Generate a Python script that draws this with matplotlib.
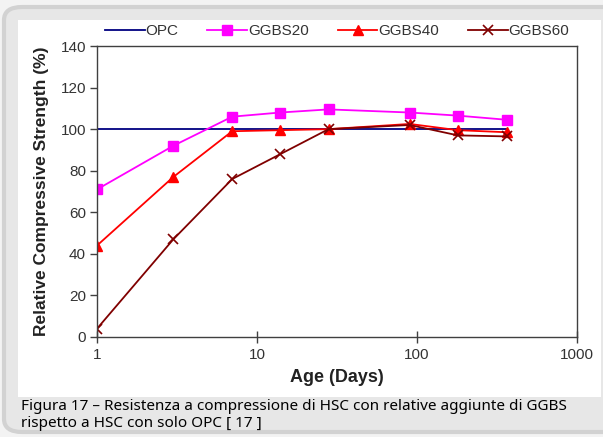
import numpy as np
import matplotlib.pyplot as plt
from matplotlib.patches import FancyBboxPatch, Rectangle

# data
days = [1, 3, 7, 14, 28, 90, 180, 365]
opc = [100, 100, 100, 100, 100, 100, 100, 100]
ggbs20 = [71, 92, 106, 108, 109.5, 108, 106.5, 104.5]
ggbs40 = [44, 77, 99, 99.5, 100, 102.5, 99.5, 98.5]
ggbs60 = [4, 47, 76, 88, 100, 102, 97, 96.5]
xticks = [1, 10, 100, 1000]
yticks = [0, 20, 40, 60, 80, 100, 120, 140]
caption = ("Figura 17 \u2013 Resistenza a compressione di HSC con relative aggiunte di GGBS\n"
           "rispetto a HSC con solo OPC [ 17 ]")

plt.rcParams['font.family'] = ['Liberation Sans', 'DejaVu Sans']

W, H = 603, 437
fig = plt.figure(figsize=(W / 100, H / 100), dpi=100)
fig.patch.set_facecolor('#f3f3f3')

# rounded grey panel and white chart area
panel = FancyBboxPatch((4 / W, 5 / H), 1.5, 1 - 12 / H,
                       boxstyle='round,pad=0,rounding_size=0.03',
                       transform=fig.transFigure, facecolor='#e7e7e7',
                       edgecolor='#d2d2d2', linewidth=3, zorder=-3)
fig.patches.append(panel)
fig.patches.append(Rectangle((18 / W, 1 - 397 / H), 583 / W, 377 / H,
                             transform=fig.transFigure, facecolor='white',
                             edgecolor='none', zorder=-2))

ax = fig.add_axes([97 / W, 1 - 337 / H, 480 / W, 291 / H])
ax.set_facecolor('white')

ax.plot(days, opc, color='#000080', lw=1.3, label='OPC')
ax.plot(days, ggbs20, color='#ff00ff', lw=1.3, marker='s', ms=7, label='GGBS20')
ax.plot(days, ggbs40, color='#ff0000', lw=1.3, marker='^', ms=6.5, label='GGBS40')
ax.plot(days, ggbs60, color='#800000', lw=1.3, marker='x', ms=7, mew=1.2, label='GGBS60')

ax.set_xscale('log')
ax.set_xlim(1, 1000)
ax.set_ylim(0, 140)
ax.set_xticks(xticks)
ax.set_xticklabels([str(t) for t in xticks])
ax.minorticks_off()
ax.set_yticks(yticks)
for s in ax.spines.values():
    s.set_color('#404040')
    s.set_linewidth(1.0)
ax.tick_params(axis='x', direction='inout', length=8, pad=4)
ax.tick_params(axis='y', direction='out', length=5, pad=3)
ax.tick_params(width=1, color='#404040', labelsize=11, labelcolor='#333333')
ax.set_xlabel('Age (Days)', fontsize=13, fontweight='bold', labelpad=5, color='#222222')
ax.set_ylabel('Relative Compressive Strength (%)', fontsize=12.5, fontweight='bold',
              labelpad=8, color='#222222')

ax.legend(loc='lower center', bbox_to_anchor=(0.5, 0.995), ncol=4, frameon=False,
          fontsize=11, handlelength=2.6, columnspacing=1.9, handletextpad=0.05,
          borderaxespad=0.2, labelcolor='#333333')

fig.text(21 / W, 1 - 399 / H, caption, fontsize=11, family='Noto Sans',
         va='top', ha='left', linespacing=1.15, color='#000000')

fig.savefig('out.png', dpi=100, facecolor=fig.get_facecolor())
